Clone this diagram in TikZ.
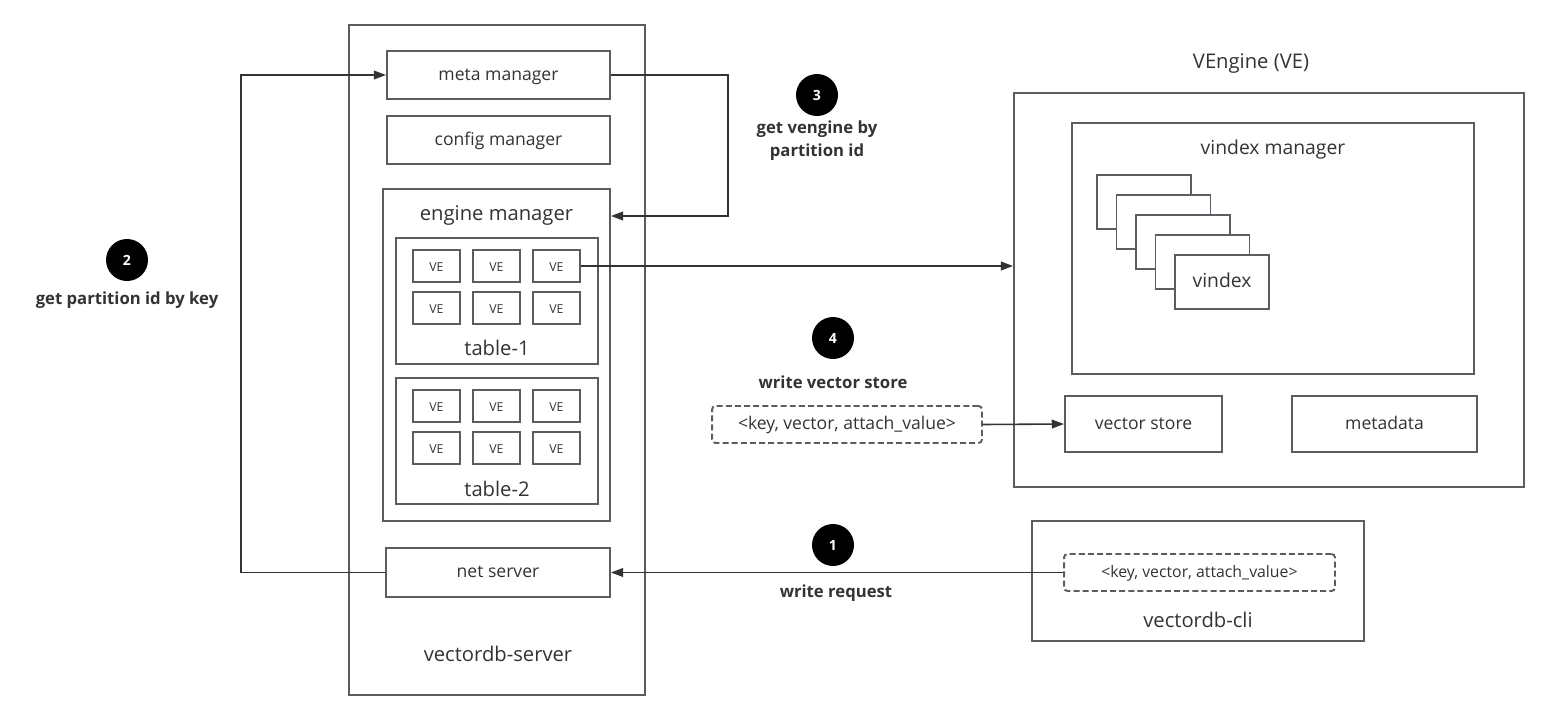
\documentclass[tikz,border=0pt]{standalone}
\usepackage{fontspec}
\setmainfont{Open Sans}
\usetikzlibrary{arrows.meta}
\definecolor{boxline}{HTML}{595C61}
\definecolor{txt}{HTML}{333333}
\tikzset{
  box/.style={draw=boxline, line width=1.1pt, fill=white, text=txt, inner sep=0pt, text height=0.8em, text depth=0.2em, font=\fontsize{10}{12}\selectfont},
  title/.style={text=txt, inner sep=0pt, font=\fontsize{11.5}{14}\selectfont},
  vebox/.style={box, minimum width=0.94cm, minimum height=0.64cm, font=\fontsize{7}{8}\selectfont},
  kvbox/.style={box, dash pattern=on 3.4pt off 1.8pt, rounded corners=2pt, minimum height=0.74cm},
  num/.style={circle, fill=black, text=white, minimum size=0.84cm, inner sep=0pt, font=\bfseries\fontsize{8}{9}\selectfont},
  note/.style={text=txt, align=center, inner sep=0pt, font=\bfseries\fontsize{9.5}{13}\selectfont},
  link/.style={draw=txt, line width=0.9pt, -{Triangle[length=7pt,width=5pt]}},
}
\begin{document}
\begin{tikzpicture}[x=0.02cm, y=-0.02cm]
   \useasboundingbox (0,0) rectangle (1549,721);

   \node[box, minimum width=5.92cm, minimum height=13.40cm] (server) at (497,360) {};
   \node[title] (srvtitle) at (498,654) {vectordb-server};
   \node[box, minimum width=4.46cm, minimum height=0.96cm] (meta) at (498.5,75) {meta manager};
   \node[box, minimum width=4.46cm, minimum height=0.96cm] (config) at (498.5,140) {config manager};
   \node[box, minimum width=4.54cm, minimum height=6.64cm] (engine) at (496.5,355) {};
   \node[title] (engtitle) at (496.5,216) {engine manager};
   \node[box, minimum width=4.04cm, minimum height=2.52cm] (table1) at (497,301) {};
   \node[title] (t1title) at (497,348) {table-1};
   \node[box, minimum width=4.04cm, minimum height=2.52cm] (table2) at (497,441) {};
   \node[title] (t2title) at (497,489) {table-2};
   \node[box, minimum width=4.48cm, minimum height=0.98cm] (net) at (498,572.5) {net server};

   \foreach \c/\x in {1/436.5, 2/496.5, 3/556.5} {
     \node[vebox] (ve1\c) at (\x,266) {VE};
     \node[vebox] (ve2\c) at (\x,308) {VE};
     \node[vebox] (ve3\c) at (\x,406) {VE};
     \node[vebox] (ve4\c) at (\x,448) {VE};
   }

   \node[title] (vengtitle) at (1251,64) {VEngine (VE)};
   \node[box, minimum width=10.20cm, minimum height=7.88cm] (veng) at (1269,290) {};
   \node[box, minimum width=8.04cm, minimum height=5.02cm] (vim) at (1273,248.5) {};
   \node[title, font=\fontsize{11}{13}\selectfont] (vimtitle) at (1273,149) {vindex manager};
   \foreach \i in {0,...,3}
     \node[box, minimum width=1.88cm, minimum height=1.08cm] (vx\i) at (1144+19.5*\i,202+20*\i) {};
   \node[box, minimum width=1.88cm, minimum height=1.08cm, font=\fontsize{11}{13}\selectfont] (vindex) at (1222,282) {vindex};
   \node[box, minimum width=3.14cm, minimum height=1.12cm] (store) at (1143.5,424) {vector store};
   \node[box, minimum width=3.70cm, minimum height=1.12cm] (metadata) at (1384.5,424) {metadata};

   \node[kvbox, minimum width=5.40cm] (kv1) at (847,424.5) {<key, vector, attach\_value>};

   \node[box, minimum width=6.64cm, minimum height=2.40cm] (cli) at (1198,581) {};
   \node[title] (clititle) at (1198,620) {vectordb-cli};
   \node[kvbox, minimum width=5.42cm, font=\fontsize{9}{11}\selectfont] (kv2) at (1199.5,572.5) {<key, vector, attach\_value>};

   \node[num] (n1) at (833,545) {1};
   \node[note] (w1) at (836,593) {write request};
   \node[num] (n2) at (127,260) {2};
   \node[note] (w2) at (127,300) {get partition id by key};
   \node[num] (n3) at (817,95) {3};
   \node[note] (w3) at (817,141) {get vengine by\\partition id};
   \node[num] (n4) at (833,338) {4};
   \node[note] (w4) at (833,382) {write vector store};

   \draw[link] (kv2.west) -- (net.east);
   \draw[link] (net.west) -- ++(-144,0) |- (meta.west);
   \draw[link] (meta.east) -- ++(117,0) |- (engtitle -| engine.east);
   \draw[link] (ve13.east) -- (ve13 -| veng.west);
   \draw[link] (kv1.east) -- (store.west);

\end{tikzpicture}
\end{document}
